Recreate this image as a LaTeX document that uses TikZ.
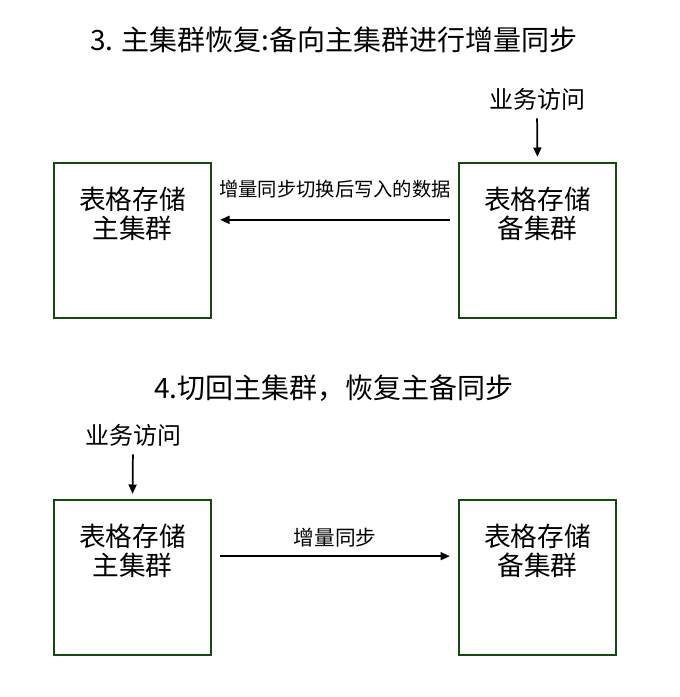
\documentclass[tikz,border=0pt]{standalone}
\usepackage{fontspec}
\setmainfont{Noto Sans CJK SC}
\usetikzlibrary{positioning,calc,arrows.meta}
\definecolor{boxL}{RGB}{16,76,16}
\definecolor{arr}{RGB}{0,0,0}

\begin{document}
\begin{tikzpicture}[
  x=0.75pt, y=0.75pt,
  box/.style={draw=boxL, line width=1.5pt, inner sep=0pt, minimum width=118pt, minimum height=116pt},
  boxtxt/.style={anchor=north, align=center, inner sep=0pt, font=\fontsize{20pt}{21.75pt}\selectfont},
  title/.style={inner sep=0pt, font=\fontsize{21pt}{25pt}\selectfont},
  visit/.style={inner sep=0pt, font=\fontsize{18pt}{22pt}\selectfont},
  lbl/.style={inner sep=0pt, font=\fontsize{14.5pt}{18pt}\selectfont},
  flow/.style={-{Triangle[length=7pt,width=6pt]}, line width=1.3pt, draw=arr},
]
\useasboundingbox (0,0) rectangle (680,697);

% ---------- step 3 ----------
\node[title] (t3) at (334,657) {3. 主集群恢复:备向主集群进行增量同步};

\node[box] (mainA) at (132.5,456.5) {};
\node[box] (bakA) at (537.5,456.5) {};
\node[boxtxt] (mainAt) at ($(mainA.north)+(0,-25)$) {表格存储\\主集群};
\node[boxtxt] (bakAt) at ($(bakA.north)+(0,-25)$) {表格存储\\备集群};

\node[visit] (visA) at (537,598) {业务访问};
\draw[flow, shorten <=6pt, shorten >=4pt] (visA.south) -- (bakA.north);

\draw[flow, shorten <=6pt, shorten >=6pt] ([yshift=15.5pt]bakA.west) -- node[lbl, above=16pt]{增量同步切换后写入的数据} ([yshift=15.5pt]mainA.east);

% ---------- step 4 ----------
\node[title] (t4) at (334,309) {4.切回主集群，恢复主备同步};

\node[box] (mainB) at (132.5,119.5) {};
\node[box] (bakB) at (537.5,119.5) {};
\node[boxtxt] (mainBt) at ($(mainB.north)+(0,-25)$) {表格存储\\主集群};
\node[boxtxt] (bakBt) at ($(bakB.north)+(0,-25)$) {表格存储\\备集群};

\node[visit] (visB) at (133,262) {业务访问};
\draw[flow, shorten <=6pt, shorten >=4pt] (visB.south) -- (mainB.north);

\draw[flow, shorten <=6pt, shorten >=6pt] ([yshift=16pt]mainB.east) -- node[lbl, font=\fontsize{15.5pt}{18pt}\selectfont, above=6pt]{增量同步} ([yshift=16pt]bakB.west);

\end{tikzpicture}
\end{document}
